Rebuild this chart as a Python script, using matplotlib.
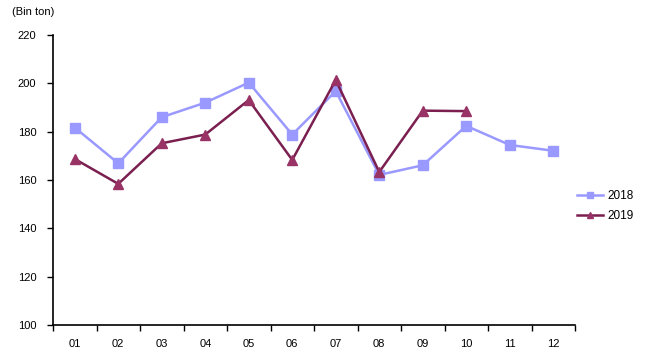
import matplotlib
matplotlib.use("Agg")
import matplotlib.pyplot as plt
import numpy as np

months = ["01", "02", "03", "04", "05", "06", "07", "08", "09", "10", "11", "12"]
s2018 = [181.7, 166.9, 186.0, 192.0, 200.3, 178.8, 196.8, 162.1, 166.1, 182.4, 174.5, 172.1]
s2019 = [168.7, 158.4, 175.2, 178.8, 193.1, 168.3, 201.4, 163.3, 188.7, 188.5]
yticks = [100, 120, 140, 160, 180, 200, 220]

plt.rcParams['font.family'] = ['Liberation Sans', 'DejaVu Sans']

fig = plt.figure(figsize=(6.5, 3.6), dpi=100)
ax = fig.add_axes([53/650, 1-325/360, (575-53)/650, (325-35)/360])

x18 = np.arange(1, len(s2018)+1)
x19 = np.arange(1, len(s2019)+1)
ax.plot(x18, s2018, color="#9999FF", lw=1.8, marker="s", ms=7,
        mfc="#9999FF", mec="#9999FF", label="2018")
ax.plot(x19, s2019, color="#7A1F4F", lw=1.8, marker="^", ms=7,
        mfc="#993366", mec="#993366", label="2019")

ax.set_xlim(0.5, 12.5)
ax.set_ylim(100, 220)
ax.set_yticks(yticks)
ax.set_yticklabels([str(v) for v in yticks], fontsize=8)
ax.set_xticks(np.arange(0.5, 13, 1))
ax.set_xticklabels([])
ax.set_xticks(np.arange(1, 13), minor=True)
ax.set_xticklabels(months, minor=True, fontsize=8)
ax.tick_params(axis='x', which='major', direction='out', length=4, width=1)
ax.tick_params(axis='x', which='minor', length=0, pad=10)
ax.tick_params(axis='y', direction='out', length=4, width=1, pad=8)
for s in ["top", "right"]:
    ax.spines[s].set_visible(False)
for s in ["left", "bottom"]:
    ax.spines[s].set_linewidth(1.2)

fig.text(12/650, 1-12/360, "(Bin ton)", fontsize=8, va="center", ha="left")

leg = ax.legend(loc="center left", bbox_to_anchor=(0.995, 0.41), frameon=False,
                fontsize=8.5, handlelength=2.2, markerscale=0.6, labelspacing=0.7,
                handletextpad=0.4, borderaxespad=0.0)

fig.savefig("out.png", dpi=100)
